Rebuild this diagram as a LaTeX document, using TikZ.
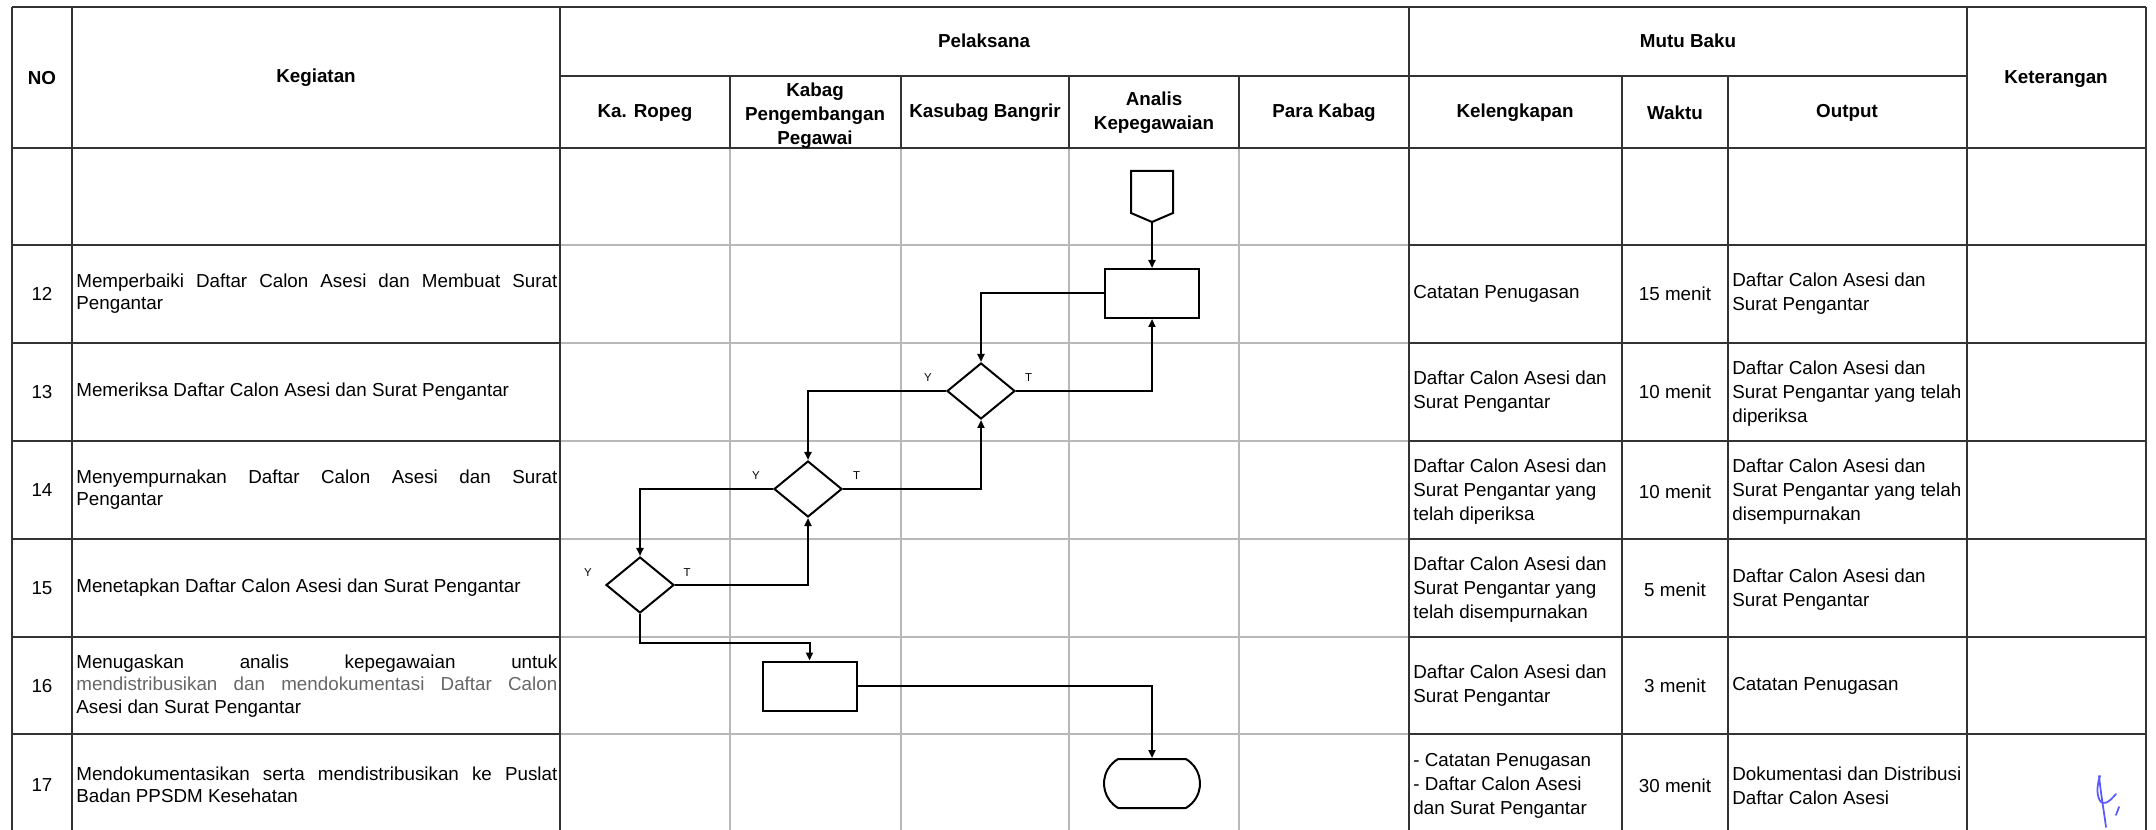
\documentclass[tikz,border=0pt]{standalone}
\usepackage{fontspec}
\setmainfont{Liberation Sans}
\usetikzlibrary{shapes.geometric,shapes.misc,arrows.meta}

\begin{document}
\begin{tikzpicture}[x=0.2mm,y=-0.2mm,
darkline/.style={line width=0.4mm, black!80},
lightline/.style={line width=0.3mm, black!28},
head/.style={font=\bfseries\fontsize{10.7}{13.6}\selectfont, align=center, inner sep=0},
cell/.style={font=\fontsize{10.7}{13.6}\selectfont, align=left, anchor=west, inner sep=0},
keg/.style={font=\fontsize{10.7}{12.6}\selectfont, align=justify, text width=96.2mm, anchor=west, inner sep=0},
num/.style={font=\fontsize{10.7}{13.6}\selectfont, inner sep=0},
proc/.style={draw, line width=0.4mm, minimum width=18.8mm, minimum height=9.8mm, inner sep=0},
dec/.style={draw, diamond, line width=0.4mm, minimum width=13.6mm, minimum height=11.2mm, inner sep=0},
term/.style={draw, rounded rectangle, rounded rectangle arc length=120, line width=0.4mm, minimum width=19.2mm, minimum height=9.8mm, inner sep=0},
flow/.style={line width=0.4mm, -{Triangle[length=1.6mm,width=1.4mm]}},
yt/.style={font=\fontsize{6.5}{8}\selectfont, inner sep=0},
ink/.style={line width=0.35mm, blue!65!white, line cap=round}]

\useasboundingbox (0,0) rectangle (2156,830);
\clip (0,0) rectangle (2156,830);

\draw[lightline]
(730,148) -- (730,830)
(901,148) -- (901,830)
(1069,148) -- (1069,830)
(1239,148) -- (1239,830)
(560,245) -- (1409,245)
(560,343) -- (1409,343)
(560,441) -- (1409,441)
(560,539) -- (1409,539)
(560,637) -- (1409,637)
(560,734) -- (1409,734);

\draw[darkline]
(12,7) -- (2146,7)
(560,76) -- (1967,76)
(12,148) -- (2146,148)
(12,245) -- (560,245) (1409,245) -- (2146,245)
(12,343) -- (560,343) (1409,343) -- (2146,343)
(12,441) -- (560,441) (1409,441) -- (2146,441)
(12,539) -- (560,539) (1409,539) -- (2146,539)
(12,637) -- (560,637) (1409,637) -- (2146,637)
(12,734) -- (560,734) (1409,734) -- (2146,734)
(12,7) -- (12,830)
(72,7) -- (72,830)
(560,7) -- (560,830)
(730,76) -- (730,148)
(901,76) -- (901,148)
(1069,76) -- (1069,148)
(1239,76) -- (1239,148)
(1409,7) -- (1409,830)
(1622,76) -- (1622,830)
(1728,76) -- (1728,830)
(1967,7) -- (1967,830)
(2146,7) -- (2146,830);

\node (hno) at (42,78) [head] {NO};
\node (hkeg) at (316,78) [head] {Kegiatan};
\node (hpel) at (984,41) [head] {Pelaksana};
\node (hmutu) at (1688,41) [head] {Mutu Baku};
\node (hket) at (2056,79) [head] {Keterangan};
\node (hropeg) at (645,113) [head] {Ka. Ropeg};
\node (hkabag) at (815,116) [head] {Kabag\\Pengembangan\\Pegawai};
\node (hbangrir) at (985,113) [head] {Kasubag Bangrir};
\node (hanalis) at (1154,113) [head] {Analis\\Kepegawaian};
\node (hpara) at (1324,113) [head] {Para Kabag};
\node (hkel) at (1515,113) [head] {Kelengkapan};
\node (hwaktu) at (1675,113) [head] {Waktu};
\node (hout) at (1847,113) [head] {Output};

\node (n12) at (42,294) [num] {12};
\node (k12) at (76,294) [keg] {Memperbaiki Daftar Calon Asesi dan Membuat Surat\linebreak Pengantar};
\node (l12) at (1413,294) [cell] {Catatan Penugasan};
\node (w12) at (1675,294) [num] {15 menit};
\node (o12) at (1732,294) [cell] {Daftar Calon Asesi dan\\Surat Pengantar};

\node (n13) at (42,392) [num] {13};
\node (k13) at (76,392) [keg] {Memeriksa Daftar Calon Asesi dan Surat Pengantar};
\node (l13) at (1413,392) [cell] {Daftar Calon Asesi dan\\Surat Pengantar};
\node (w13) at (1675,392) [num] {10 menit};
\node (o13) at (1732,394) [cell] {Daftar Calon Asesi dan\\Surat Pengantar yang telah\\diperiksa};

\node (n14) at (42,490) [num] {14};
\node (k14) at (76,490) [keg] {Menyempurnakan Daftar Calon Asesi dan Surat\linebreak Pengantar};
\node (l14) at (1413,492) [cell] {Daftar Calon Asesi dan\\Surat Pengantar yang\\telah diperiksa};
\node (w14) at (1675,492) [num] {10 menit};
\node (o14) at (1732,492) [cell] {Daftar Calon Asesi dan\\Surat Pengantar yang telah\\disempurnakan};

\node (n15) at (42,588) [num] {15};
\node (k15) at (76,588) [keg] {Menetapkan Daftar Calon Asesi dan Surat Pengantar};
\node (l15) at (1413,590) [cell] {Daftar Calon Asesi dan\\Surat Pengantar yang\\telah disempurnakan};
\node (w15) at (1675,590) [num] {5 menit};
\node (o15) at (1732,590) [cell] {Daftar Calon Asesi dan\\Surat Pengantar};

\node (n16) at (42,686) [num] {16};
\node (k16) at (76,686) [keg] {Menugaskan analis kepegawaian untuk\linebreak {\color{black!60}mendistribusikan dan mendokumentasi Daftar Calon}\linebreak Asesi dan Surat Pengantar};
\node (l16) at (1413,686) [cell] {Daftar Calon Asesi dan\\Surat Pengantar};
\node (w16) at (1675,686) [num] {3 menit};
\node (o16) at (1732,686) [cell] {Catatan Penugasan};

\node (n17) at (42,785) [num] {17};
\node (k17) at (76,785) [keg] {Mendokumentasikan serta mendistribusikan ke Puslat\linebreak Badan PPSDM Kesehatan};
\node (l17) at (1413,786) [cell] {- Catatan Penugasan\\- Daftar Calon Asesi\\dan Surat Pengantar};
\node (w17) at (1675,786) [num] {30 menit};
\node (o17) at (1732,786) [cell] {Dokumentasi dan Distribusi\\Daftar Calon Asesi};

\node (conn) at (1152,196.5) [minimum width=8.4mm, minimum height=10.2mm, inner sep=0, outer sep=0] {};
\draw[line width=0.4mm] (conn.north west) -- (conn.north east) -- ([yshift=1.8mm]conn.south east) -- (conn.south) -- ([yshift=1.8mm]conn.south west) -- cycle;
\node (p12) at (1152,293.5) [proc] {};
\node (d13) at (981,391) [dec] {};
\node (d14) at (808,489) [dec] {};
\node (d15) at (640,585) [dec] {};
\node (p16) at (809.5,686) [proc] {};
\node (stop) at (1152,783.5) [term] {};

\node (y13) at ([xshift=-3.6mm,yshift=2.6mm]d13.west) [yt] {Y};
\node (t13) at ([xshift=2.5mm,yshift=2.6mm]d13.east) [yt] {T};
\node (y14) at ([xshift=-3.4mm,yshift=2.6mm]d14.west) [yt] {Y};
\node (t14) at ([xshift=2.7mm,yshift=2.6mm]d14.east) [yt] {T};
\node (y15) at ([xshift=-3.4mm,yshift=2.4mm]d15.west) [yt] {Y};
\node (t15) at ([xshift=2.4mm,yshift=2.4mm]d15.east) [yt] {T};

\draw[flow] (conn.south) -- (p12.north);
\draw[flow] (p12.west) -| (d13.north);
\draw[flow] (d13.east) -| (p12.south);
\draw[flow] (d13.west) -| (d14.north);
\draw[flow] (d14.east) -| (d13.south);
\draw[flow] (d14.west) -| (d15.north);
\draw[flow] (d15.east) -| (d14.south);
\draw[flow] (d15.south) -- ++(0,29) -| (p16.north);
\draw[flow] (p16.east) -| (stop.north);

\draw[ink] (2100,776) .. controls (2095,790) and (2098,802) .. (2103,803) .. controls (2108,804) and (2113,797) .. (2116,794);
\draw[ink] (2099,776) .. controls (2101,795) and (2104,812) .. (2106,827);
\draw[ink] (2119,807) -- (2116,815);
\end{tikzpicture}
\end{document}
